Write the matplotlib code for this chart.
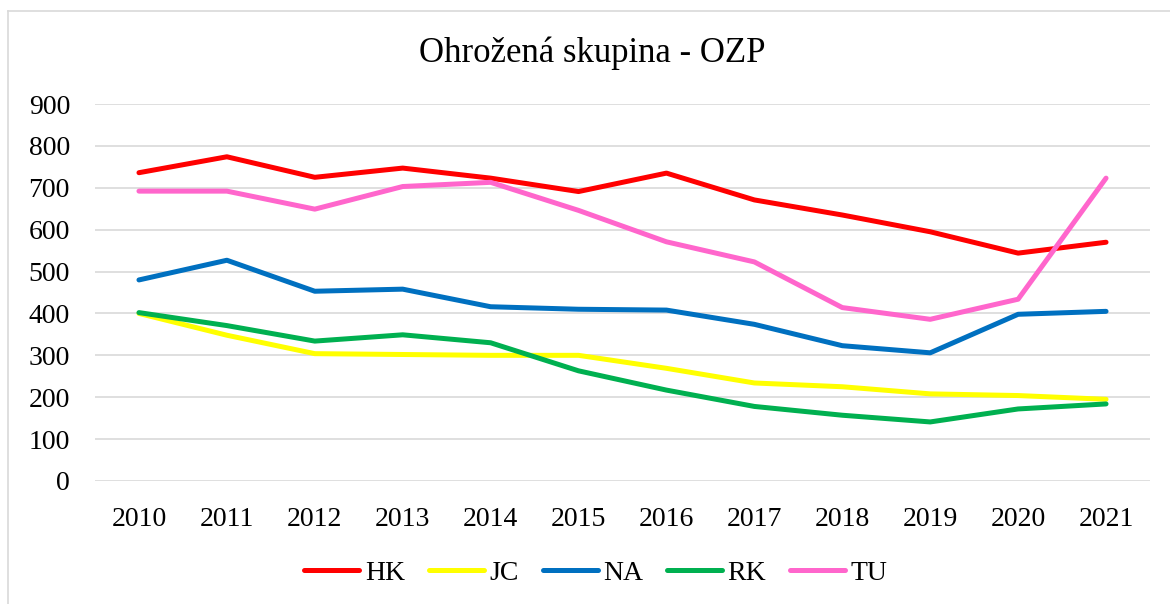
import numpy as np
import matplotlib
matplotlib.use("Agg")
import matplotlib.pyplot as plt
from matplotlib.lines import Line2D

# ---------------- data ----------------
years = ["2010", "2011", "2012", "2013", "2014", "2015",
         "2016", "2017", "2018", "2019", "2020", "2021"]
HK = [736, 774, 725, 747, 723, 691, 735, 671, 635, 595, 544, 570]
JC = [400, 348, 304, 302, 300, 300, 269, 234, 225, 208, 204, 195]
NA = [480, 527, 453, 458, 416, 410, 408, 374, 323, 306, 398, 405]
RK = [402, 371, 334, 349, 330, 263, 217, 178, 157, 141, 172, 184]
TU = [692, 692, 649, 703, 713, 646, 571, 523, 414, 386, 434, 723]

series_names = ["HK", "JC", "NA", "RK", "TU"]
series_vals = [HK, JC, NA, RK, TU]
colors = ["#ff0000", "#ffff00", "#0070c0", "#00b050", "#ff66cc"]

title = "Ohrožená skupina - OZP"

# ---------------- plot ----------------
plt.rcParams["font.family"] = ["Liberation Serif", "DejaVu Serif"]

W, H = 1170, 604
fig = plt.figure(figsize=(W / 100, H / 100), dpi=100)
ax = fig.add_axes([95 / W, 1 - 481 / H, (1150 - 95) / W, (481 - 104) / H])

x = np.arange(len(years))
for name, vals, c in zip(series_names, series_vals, colors):
    ax.plot(x, vals, color=c, lw=3.6, solid_capstyle="round",
            solid_joinstyle="round", label=name)

ax.set_xlim(-0.5, len(years) - 0.5)
ax.set_ylim(0, 900)
ax.set_yticks(np.arange(0, 901, 100))
ax.set_xticks(x)
ax.set_xticklabels(years)
ax.grid(axis="y", color="#d9d9d9", lw=1.2)
ax.set_axisbelow(True)
for s in ax.spines.values():
    s.set_visible(False)
ax.tick_params(axis="both", length=0, labelsize=20, colors="black")
ax.tick_params(axis="y", pad=18)
ax.tick_params(axis="x", pad=19)

fig.text(592 / W, 1 - 53 / H, title, ha="center", va="center", fontsize=25)

fig.legend(loc="center", bbox_to_anchor=(596 / W, 1 - 573 / H), ncol=5,
           frameon=False, fontsize=20, handlelength=1.98, handletextpad=0.2,
           columnspacing=0.86)

# outer chart border (only left/top visible in the crop)
fig.add_artist(Line2D([8 / W, 8 / W], [0, 1 - 11 / H], color="#d9d9d9", lw=1.2))
fig.add_artist(Line2D([8 / W, 1], [1 - 11 / H, 1 - 11 / H], color="#d9d9d9", lw=1.2))

fig.savefig("out.png", dpi=100)
